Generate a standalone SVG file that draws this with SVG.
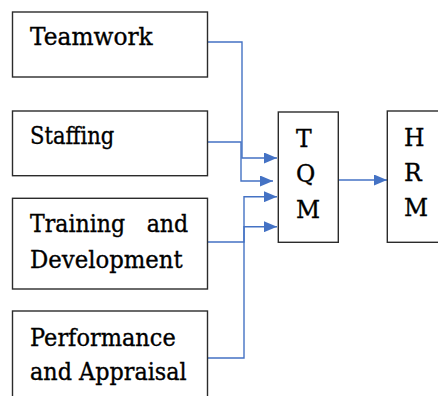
<svg xmlns="http://www.w3.org/2000/svg" width="438" height="396" viewBox="0 0 438 396">
<style>
.box{fill:#fff;stroke:#2b2b2b;stroke-width:1.4}
.t{font-family:"DejaVu Serif","Liberation Serif",serif;font-size:23.5px;fill:#000;stroke:#000;stroke-width:0.35}
.c{fill:none;stroke:#4472c4;stroke-width:1.4}
</style>
<defs>
<marker id="ah" viewBox="0 0 13 11" refX="13" refY="5.5" markerWidth="13" markerHeight="11" markerUnits="userSpaceOnUse" orient="auto">
<path d="M0,0 L13,5.5 L0,11 Z" fill="#4472c4"/>
</marker>
</defs>
<rect width="438" height="396" fill="#fff"/>
<g id="connectors">
<path class="c" d="M207.5,42 H242 V158 H277" marker-end="url(#ah)"/>
<path class="c" d="M207.5,142 H241 V181 H273" marker-end="url(#ah)"/>
<path class="c" d="M207.5,242 H244 V196.7 H277" marker-end="url(#ah)"/>
<path class="c" d="M207.5,358 H244 V226.7 H277" marker-end="url(#ah)"/>
<path class="c" d="M338.3,180 H387" marker-end="url(#ah)"/>
</g>
<g id="teamwork">
<rect class="box" x="12.5" y="12" width="195" height="65"/>
<text class="t" x="30" y="45" textLength="122.7" lengthAdjust="spacingAndGlyphs">Teamwork</text>
</g>
<g id="staffing">
<rect class="box" x="12.5" y="111" width="195" height="64.7"/>
<text class="t" x="30" y="144.3" textLength="84.3" lengthAdjust="spacingAndGlyphs">Staffing</text>
</g>
<g id="training">
<rect class="box" x="12.5" y="198.3" width="195" height="90.7"/>
<text class="t" x="30" y="232.3" textLength="95" lengthAdjust="spacingAndGlyphs">Training</text>
<text class="t" x="146.7" y="232.3" textLength="41.6" lengthAdjust="spacingAndGlyphs">and</text>
<text class="t" x="30" y="267.7" textLength="152.7" lengthAdjust="spacingAndGlyphs">Development</text>
</g>
<g id="performance">
<rect class="box" x="12.5" y="311" width="195" height="95"/>
<text class="t" x="30" y="345.7" textLength="145.7" lengthAdjust="spacingAndGlyphs">Performance</text>
<text class="t" x="30" y="380" textLength="156.7" lengthAdjust="spacingAndGlyphs">and Appraisal</text>
</g>
<g id="tqm">
<rect class="box" x="278.3" y="112" width="60" height="130.3"/>
<text class="t" x="296" y="146.7">T</text>
<text class="t" x="296" y="182.2">Q</text>
<text class="t" x="296" y="217.7">M</text>
</g>
<g id="hrm">
<rect class="box" x="387.3" y="111" width="60" height="131.3"/>
<text class="t" x="404" y="145.7">H</text>
<text class="t" x="404" y="181">R</text>
<text class="t" x="404" y="216.3">M</text>
</g>
</svg>
